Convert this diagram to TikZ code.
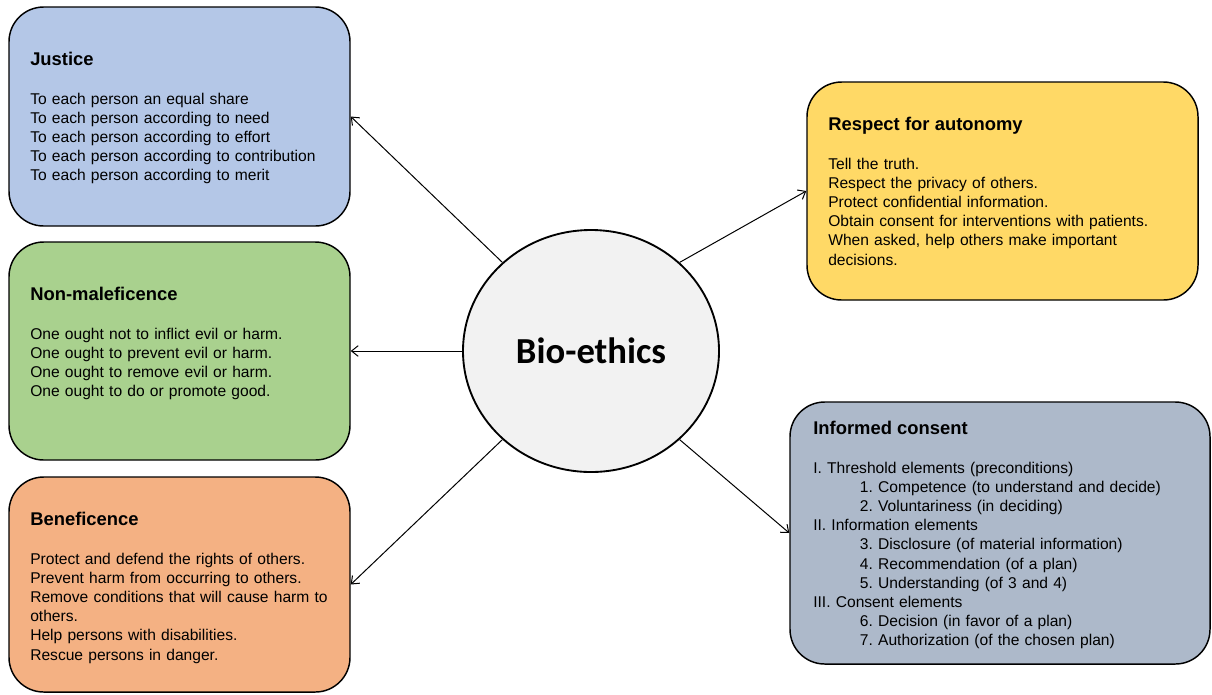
\documentclass[tikz,border=0pt]{standalone}
\usepackage{fontspec}
\setmainfont{Liberation Sans}
\newfontfamily\hubfont{Carlito}
\usetikzlibrary{arrows.meta,shapes.geometric}
\definecolor{justcol}{RGB}{180,199,231}
\definecolor{nonmalcol}{RGB}{169,209,142}
\definecolor{benecol}{RGB}{244,177,131}
\definecolor{autocol}{RGB}{255,217,102}
\definecolor{conscol}{RGB}{173,185,202}
\definecolor{hubcol}{RGB}{242,242,242}
\tikzset{
  box/.style={rectangle,rounded corners=26pt,draw=black,line width=1.1pt,inner sep=0pt},
  hub/.style={ellipse,draw=black,line width=1.4pt,fill=hubcol,inner sep=0pt,
    minimum width=192pt,minimum height=181.5pt,font=\hubfont\bfseries\fontsize{27.5}{32}\selectfont},
  txt/.style={anchor=north west,align=left,text width=310pt,inner sep=0pt,
    font=\fontsize{11.7}{14.3}\selectfont\frenchspacing},
  ar/.style={-{Straight Barb[length=5pt,width=8pt]},line width=0.75pt}
}
\newcommand{\hd}[1]{{\fontsize{13.8}{14.3}\selectfont\bfseries #1}\\[15pt]}
\newcommand{\ind}{\hspace*{35pt}}

\begin{document}
\begin{tikzpicture}[x=0.75pt,y=-0.75pt]
  \useasboundingbox (0,0) rectangle (1212,694);
  % the five principle boxes
  \node[box,fill=justcol,minimum width=255.75pt,minimum height=164.25pt] (justice) at (179.5,116.5) {};
  \node[box,fill=nonmalcol,minimum width=255.75pt,minimum height=163.5pt] (nonmal) at (179.5,351) {};
  \node[box,fill=benecol,minimum width=255.75pt,minimum height=161.25pt] (benef) at (179.5,584.5) {};
  \node[box,fill=autocol,minimum width=293.25pt,minimum height=163.5pt] (auton) at (1002.5,191) {};
  \node[box,fill=conscol,minimum width=315pt,minimum height=196.5pt] (consent) at (1000,533) {};
  % centre
  \node[hub] (bio) at (591,351) {Bio-ethics};
  % texts
  \node[txt] (justice-t) at (30,52) {\hd{Justice}
    To each person an equal share\\
    To each person according to need\\
    To each person according to effort\\
    To each person according to contribution\\
    To each person according to merit};
  \node[txt] (nonmal-t) at (30,287) {\hd{Non-maleficence}
    One ought not to inflict evil or harm.\\
    One ought to prevent evil or harm.\\
    One ought to remove evil or harm.\\
    One ought to do or promote good.};
  \node[txt] (benef-t) at (30,512) {\hd{Beneficence}
    Protect and defend the rights of others.\\
    Prevent harm from occurring to others.\\
    Remove conditions that will cause harm to\\
    others.\\
    Help persons with disabilities.\\
    Rescue persons in danger.};
  \node[txt] (auton-t) at (828,117) {\hd{Respect for autonomy}
    Tell the truth.\\
    Respect the privacy of others.\\
    Protect confidential information.\\
    Obtain consent for interventions with patients.\\
    When asked, help others make important\\
    decisions.};
  \node[txt] (consent-t) at (813,421) {\hd{Informed consent}
    I. Threshold elements (preconditions)\\
    \ind 1. Competence (to understand and decide)\\
    \ind 2. Voluntariness (in deciding)\\
    II. Information elements\\
    \ind 3. Disclosure (of material information)\\
    \ind 4. Recommendation (of a plan)\\
    \ind 5. Understanding (of 3 and 4)\\
    III. Consent elements\\
    \ind 6. Decision (in favor of a plan)\\
    \ind 7. Authorization (of the chosen plan)};
  % arrows out of the centre
  \draw[ar] (bio.135) -- (justice.east);
  \draw[ar] (bio.west) -- (nonmal.east);
  \draw[ar] (bio.225) -- (benef.east);
  \draw[ar] (bio.45) -- (auton.west);
  \draw[ar] (bio.-45) -- (consent.west);
\end{tikzpicture}
\end{document}
